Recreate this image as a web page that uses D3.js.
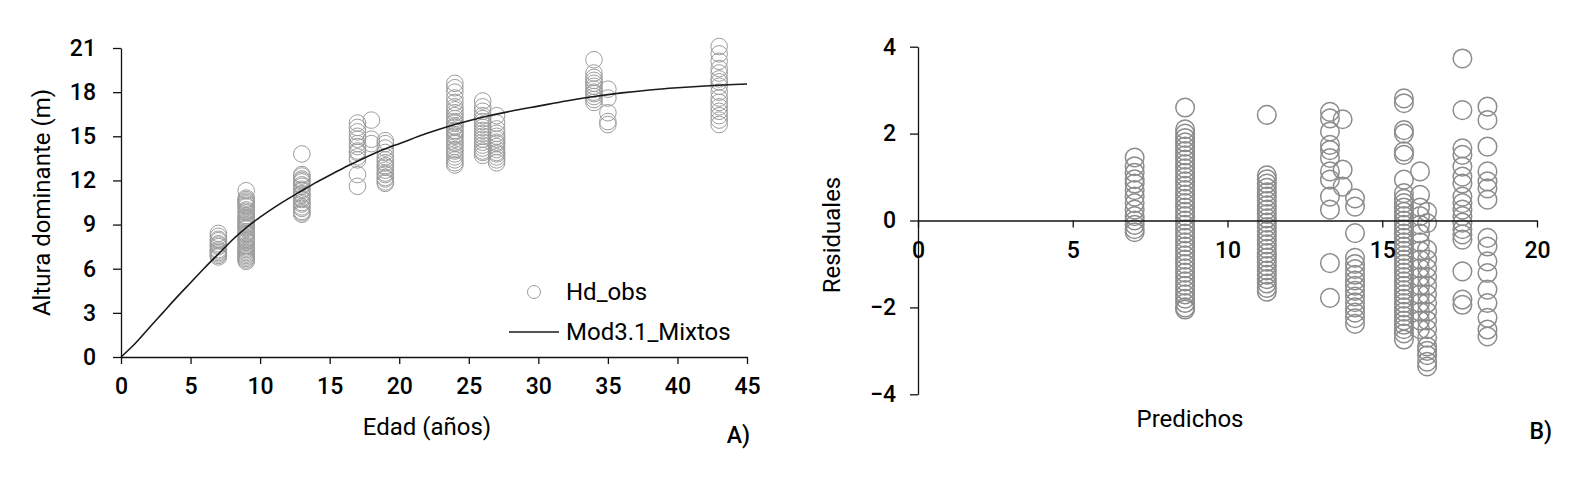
<!DOCTYPE html>
<html>
<head>
<meta charset="utf-8">
<script src="https://cdn.jsdelivr.net/npm/d3@7"></script>
<style>
  body { margin: 0; background: #fff; }
  svg text { font-family: Roboto, "Noto Sans", sans-serif; fill: #000; }
  .tick text { font-weight: 500; }
</style>
</head>
<body>
<div id="chart"></div>
<script>
// Panel A: observed dominant height by age
var edades = [7, 9, 13, 17, 18, 19, 24, 26, 27, 34, 35, 43];
var hdObs = [
  [8.4, 8.2, 8.0, 7.9, 7.7, 7.6, 7.5, 7.3, 7.2, 7.1, 7.0, 6.9, 6.8],
  [11.3, 10.8, 10.7, 10.6, 10.5, 10.4, 10.3, 10.2, 10.0, 9.9, 9.8, 9.6, 9.5, 9.4, 9.3, 9.2, 9.1, 9.0, 8.9, 8.8,
   8.7, 8.5, 8.4, 8.3, 8.1, 8.0, 7.9, 7.8, 7.6, 7.5, 7.4, 7.3, 7.2, 7.1, 7.0, 6.9, 6.8, 6.7, 6.6, 6.5],
  [13.8, 12.4, 12.3, 12.1, 12.0, 11.9, 11.7, 11.6, 11.4, 11.3, 11.1, 11.0, 10.8, 10.7, 10.5, 10.4, 10.2, 10.1, 9.9, 9.8, 9.7],
  [15.9, 15.6, 15.3, 15.0, 14.8, 14.5, 14.3, 14.0, 13.9, 13.6, 13.4, 12.4, 11.6],
  [16.1, 14.8, 14.5],
  [14.7, 14.5, 14.2, 13.9, 13.6, 13.4, 13.2, 13.0, 12.9, 12.7, 12.5, 12.4, 12.2, 12.1, 11.9, 11.8],
  [18.6, 18.3, 18.0, 17.6, 17.3, 17.0, 16.8, 16.6, 16.4, 16.2, 16.0, 15.9, 15.7, 15.6, 15.4, 15.3, 15.1, 15.0,
   14.8, 14.6, 14.5, 14.3, 14.1, 14.0, 13.8, 13.6, 13.4, 13.2, 13.05],
  [17.4, 17.0, 16.7, 16.4, 16.2, 16.0, 15.8, 15.6, 15.4, 15.2, 15.0, 14.8, 14.6, 14.4, 14.2, 14.0, 13.9, 13.7],
  [16.4, 15.9, 15.5, 15.2, 15.0, 14.8, 14.6, 14.5, 14.3, 14.1, 13.9, 13.8, 13.6, 13.4, 13.2],
  [20.2, 19.3, 19.0, 18.8, 18.6, 18.4, 18.2, 18.0, 17.9, 17.7, 17.5, 17.3],
  [18.2, 17.6, 16.6, 16.0, 15.8],
  [21.1, 20.6, 20.1, 19.6, 19.3, 18.9, 18.7, 18.4, 18.0, 17.6, 17.3, 17.0, 16.7, 16.4, 16.1, 15.8]
];

// Panel A: fitted curve Mod3.1_Mixtos
var curvaEdad = [0, 1, 2, 3, 4, 5, 6, 7, 8, 9, 10, 11, 12, 13, 14, 15, 16, 17, 18, 19, 20, 22, 24, 26, 28, 30,
                 32, 34, 36, 38, 40, 42, 45];
var curvaHd = [0, 0.9, 1.95, 3.0, 4.05, 5.05, 6.05, 7.0, 7.95, 8.8, 9.5, 10.15, 10.75, 11.3, 11.85, 12.35, 12.85,
               13.3, 13.75, 14.15, 14.5, 15.2, 15.8, 16.3, 16.7, 17.05, 17.4, 17.7, 17.95, 18.15, 18.3, 18.42, 18.55];

var ticksA_x = [0, 5, 10, 15, 20, 25, 30, 35, 40, 45];
var ticksA_y = [0, 3, 6, 9, 12, 15, 18, 21];

// Panel B: residuals by predicted value
var predichos = [7.0, 8.63, 11.27, 13.31, 13.72, 14.12, 15.7, 16.22, 16.45, 17.59, 18.4];
var residuales = [
  [1.45, 1.25, 1.1, 0.95, 0.85, 0.7, 0.55, 0.4, 0.25, 0.1, 0.0, -0.1, -0.2, -0.27],
  [2.6, 2.1, 2.0, 1.9, 1.8, 1.7, 1.6, 1.5, 1.4, 1.3, 1.2, 1.1, 1.0, 0.9, 0.8, 0.7, 0.6, 0.5, 0.4, 0.3, 0.2, 0.1,
   0.0, -0.1, -0.2, -0.3, -0.4, -0.5, -0.6, -0.7, -0.8, -0.9, -1.0, -1.1, -1.2, -1.3, -1.4, -1.5, -1.6, -1.7,
   -1.8, -1.9, -2.0, -2.05],
  [2.43, 1.04, 0.95, 0.85, 0.75, 0.65, 0.55, 0.45, 0.35, 0.25, 0.15, 0.05, -0.05, -0.15, -0.25, -0.35, -0.45,
   -0.55, -0.65, -0.75, -0.85, -0.95, -1.05, -1.15, -1.25, -1.35, -1.45, -1.55, -1.64],
  [2.5, 2.35, 2.05, 1.74, 1.62, 1.44, 1.13, 0.94, 0.55, 0.25, -0.98, -1.78],
  [2.33, 1.17, 0.78],
  [0.51, 0.32, -0.29, -0.86, -1.0, -1.12, -1.25, -1.38, -1.5, -1.62, -1.75, -1.88, -2.0, -2.12, -2.25, -2.38],
  [2.81, 2.7, 2.08, 2.0, 1.59, 1.51, 0.94, 0.63, 0.5, 0.4, 0.3, 0.2, 0.1, 0.0, -0.1, -0.2, -0.3, -0.4, -0.5,
   -0.6, -0.7, -0.8, -0.9, -1.0, -1.1, -1.2, -1.3, -1.4, -1.5, -1.6, -1.7, -1.8, -1.9, -2.0, -2.1, -2.2, -2.3,
   -2.4, -2.5, -2.6, -2.74],
  [1.13, 0.59, 0.3, 0.1, -0.1, -0.3, -0.5, -0.7, -0.9, -1.1, -1.3, -1.5, -1.7, -1.9, -2.1, -2.3, -2.5],
  [0.2, -0.06, -0.67, -0.9, -1.1, -1.3, -1.5, -1.7, -1.9, -2.1, -2.3, -2.5, -2.7, -2.9, -3.0, -3.1, -3.25, -3.36],
  [3.73, 2.54, 1.66, 1.51, 1.24, 1.01, 0.85, 0.55, 0.4, 0.25, 0.1, -0.05, -0.2, -0.32, -0.44, -1.17, -1.82, -1.94],
  [2.62, 2.31, 1.70, 1.13, 0.9, 0.74, 0.48, -0.40, -0.6, -0.94, -1.21, -1.59, -1.9, -2.24, -2.51, -2.67]
];

var ticksB_x = [0, 5, 10, 15, 20];
var ticksB_y = [-4, -2, 0, 2, 4];

var W = 1592, H = 481;

var svg = d3.select("#chart")
  .append("svg")
  .attr("width", W)
  .attr("height", H);

function flatten(xs, ys) {
  var pts = [];
  xs.forEach(function(x, i) {
    ys[i].forEach(function(v) { pts.push({ x: x, y: v }); });
  });
  return pts;
}

function styleAxis(g) {
  g.selectAll("path").attr("stroke", "#111").attr("stroke-width", 1.3);
  g.selectAll("line").attr("stroke", "#111").attr("stroke-width", 1.3);
  g.selectAll("text").style("font-size", "23px").attr("fill", "#000");
}

// ---------- Panel A ----------
var xA = d3.scaleLinear().domain([0, 45]).range([121, 747]);
var yA = d3.scaleLinear().domain([0, 21]).range([357, 48]);

var ptsA = flatten(edades, hdObs);

svg.append("g")
  .selectAll("circle")
  .data(ptsA)
  .enter()
  .append("circle")
  .attr("cx", function(d) { return xA(d.x); })
  .attr("cy", function(d) { return yA(d.y); })
  .attr("r", 8.3)
  .attr("fill", "none")
  .attr("stroke", "#9c9c9c")
  .attr("stroke-width", 1);

svg.append("path")
  .datum(curvaEdad.map(function(e, i) { return [e, curvaHd[i]]; }))
  .attr("fill", "none")
  .attr("stroke", "#1a1a1a")
  .attr("stroke-width", 1.6)
  .attr("d", d3.line()
    .x(function(d) { return xA(d[0]); })
    .y(function(d) { return yA(d[1]); })
    .curve(d3.curveMonotoneX));

svg.append("g")
  .attr("transform", "translate(0," + yA(0) + ")")
  .call(d3.axisBottom(xA).tickValues(ticksA_x).tickSize(7).tickSizeOuter(0).tickPadding(14))
  .call(styleAxis);

svg.append("g")
  .attr("transform", "translate(" + xA(0) + ",0)")
  .call(d3.axisLeft(yA).tickValues(ticksA_y).tickSize(8).tickSizeOuter(0).tickPadding(17))
  .call(styleAxis);

svg.append("text")
  .attr("transform", "translate(50," + ((yA(0) + yA(21)) / 2) + ") rotate(-90)")
  .attr("text-anchor", "middle")
  .style("font-size", "24px")
  .text("Altura dominante (m)");

svg.append("text")
  .attr("x", 427)
  .attr("y", 435)
  .attr("text-anchor", "middle")
  .style("font-size", "24px")
  .text("Edad (años)");

svg.append("text")
  .attr("x", 750)
  .attr("y", 443)
  .attr("text-anchor", "end")
  .style("font-size", "23px")
  .style("font-weight", 500)
  .text("A)");

// Legend
svg.append("circle").attr("cx", 534).attr("cy", 292).attr("r", 6.5)
  .attr("fill", "none").attr("stroke", "#9c9c9c").attr("stroke-width", 1);
svg.append("line").attr("x1", 509).attr("x2", 559).attr("y1", 332).attr("y2", 332)
  .attr("stroke", "#1a1a1a").attr("stroke-width", 1.6);
svg.append("text").attr("x", 566).attr("y", 300).style("font-size", "24px").text("Hd_obs");
svg.append("text").attr("x", 566).attr("y", 340).style("font-size", "24px").text("Mod3.1_Mixtos");

// ---------- Panel B ----------
var xB = d3.scaleLinear().domain([0, 20]).range([918, 1537]);
var yB = d3.scaleLinear().domain([-4, 4]).range([394.3, 46.7]);

var ptsB = flatten(predichos, residuales);

svg.append("g")
  .selectAll("circle")
  .data(ptsB)
  .enter()
  .append("circle")
  .attr("cx", function(d) { return xB(d.x); })
  .attr("cy", function(d) { return yB(d.y); })
  .attr("r", 9.3)
  .attr("fill", "none")
  .attr("stroke", "#8c8c8c")
  .attr("stroke-width", 1.5);

svg.append("g")
  .attr("transform", "translate(" + xB(0) + ",0)")
  .call(d3.axisLeft(yB).tickValues(ticksB_y).tickSize(8).tickSizeOuter(0).tickPadding(14))
  .call(styleAxis);

svg.append("g")
  .attr("transform", "translate(0," + yB(0) + ")")
  .call(d3.axisBottom(xB).tickValues(ticksB_x).tickSize(7).tickSizeOuter(0).tickPadding(14))
  .call(styleAxis);

svg.append("text")
  .attr("transform", "translate(840,235) rotate(-90)")
  .attr("text-anchor", "middle")
  .style("font-size", "24px")
  .text("Residuales");

svg.append("text")
  .attr("x", 1190)
  .attr("y", 427)
  .attr("text-anchor", "middle")
  .style("font-size", "24px")
  .text("Predichos");

svg.append("text")
  .attr("x", 1552)
  .attr("y", 439)
  .attr("text-anchor", "end")
  .style("font-size", "23px")
  .style("font-weight", 500)
  .text("B)");
</script>
</body>
</html>
